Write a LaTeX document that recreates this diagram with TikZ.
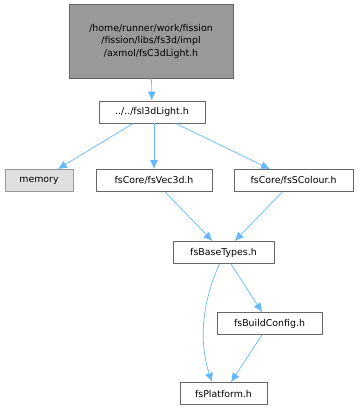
\documentclass[tikz,border=0pt]{standalone}
\usepackage{fontspec}
\setmainfont{DejaVu Sans}
\usetikzlibrary{arrows.meta}
\definecolor{edgeblue}{RGB}{99, 184, 255}
\definecolor{topfill}{RGB}{153, 153, 153}
\definecolor{topline}{RGB}{102, 102, 102}
\definecolor{sysfill}{RGB}{224, 224, 224}
\definecolor{sysline}{RGB}{153, 153, 153}
\definecolor{fileline}{RGB}{102, 102, 102}

\begin{document}
\begin{tikzpicture}[x=1pt, y=-1pt,
    file/.style={draw=fileline, fill=white, line width=0.8pt, minimum height=22pt, inner sep=2pt, font=\fontsize{9.4}{11}\selectfont},
    sysfile/.style={file, draw=sysline, fill=sysfill},
    dep/.style={-{Latex[length=9pt, width=8pt]}, edgeblue, line width=0.7pt}]
      \useasboundingbox (0, 0) rectangle (363, 411);
      \node[file, fill=topfill, draw=topline, align=center, minimum width=164pt, minimum height=74pt, font=\fontsize{9.4}{12.5}\selectfont] (light) at (151, 41) {/home/runner/work/fission\\/fission/libs/fs3d/impl\\/axmol/fsC3dLight.h};
      \node[file, minimum width=106pt] (ilight) at (152, 112) {../../fsI3dLight.h};
      \node[sysfile, minimum width=68pt] (memory) at (39, 180.5) {memory};
      \node[file, minimum width=116pt] (vec) at (154, 180.5) {fsCore/fsVec3d.h};
      \node[file, minimum width=119pt] (colour) at (293.5, 180.5) {fsCore/fsSColour.h};
      \node[file, minimum width=101pt] (base) at (223.5, 252.5) {fsBaseTypes.h};
      \node[file, minimum width=105pt] (config) at (269.5, 323.5) {fsBuildConfig.h};
      \node[file, minimum width=87pt] (platform) at (223.5, 393.5) {fsPlatform.h};

      \draw[dep] (light) -- (ilight);
      \draw[dep] (ilight) -- (memory);
      \draw[dep] (ilight.south -| vec.north) -- (vec);
      \draw[dep] (ilight) -- (colour);
      \draw[dep] (vec) -- (base);
      \draw[dep] (colour) -- (base);
      \draw[dep] (base) -- (config);
      \draw[dep] (config) -- (platform);
      \draw[dep] ([xshift=-4pt]base.south) .. controls (203, 300) and (198, 340) .. ([xshift=-11.5pt]platform.north);
    \end{tikzpicture}
\end{document}
